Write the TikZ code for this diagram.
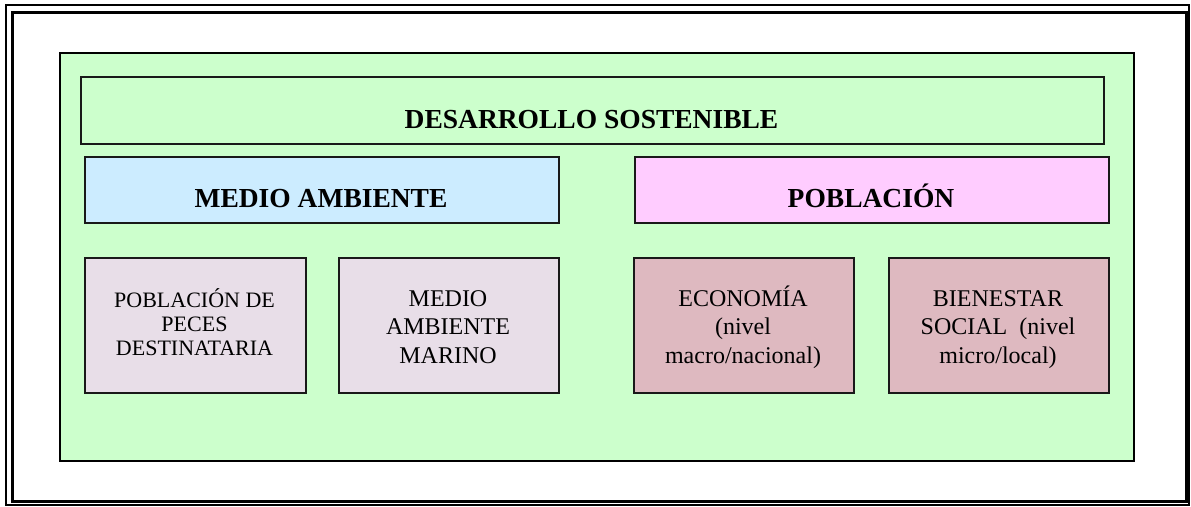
\documentclass[tikz,border=0pt]{standalone}
\usepackage{fontspec}
\setmainfont{Liberation Serif}
\usetikzlibrary{calc}
\definecolor{gbg}{HTML}{CCFFCC}
\definecolor{bluebg}{HTML}{CCECFF}
\definecolor{pinkbg}{HTML}{FFCCFF}
\definecolor{lilacbg}{RGB}{232,222,232}
\definecolor{rosebg}{RGB}{222,185,192}
\tikzset{
  boxr/.style={draw=black!90, line width=2pt, rectangle, inner sep=0pt, anchor=north west},
  ttl/.style={font=\fontsize{27.5}{33}\selectfont\bfseries, anchor=base, inner sep=0pt},
  txt/.style={font=\fontsize{24}{28.5}\selectfont, align=center, anchor=base, inner sep=0pt},
  txts/.style={font=\fontsize{22}{24}\selectfont, align=center, anchor=base, inner sep=0pt},
}
\begin{document}
\begin{tikzpicture}[x=1pt,y=-1pt]
\useasboundingbox (0,0) rectangle (1191,506);
% page border
\draw[line width=2pt] (6,5) rectangle (1189,505);
\draw[line width=3pt] (12,12) rectangle (1186,501);
% green background
\node (green) [boxr, fill=gbg, draw=black, line width=1.5pt, minimum width=1074pt, minimum height=408pt] at (59,52) {};
% top box
\node (ds) [boxr, fill=gbg, minimum width=1023pt, minimum height=67pt] at (80,76) {};
\node (dst) [ttl] at (591.5,128) {DESARROLLO SOSTENIBLE};
% section boxes
\node (ma) [boxr, fill=bluebg, minimum width=474pt, minimum height=66pt] at (84,156) {};
\node (mat) [ttl] at (321,207) {MEDIO AMBIENTE};
\node (pob) [boxr, fill=pinkbg, minimum width=474pt, minimum height=66pt] at (634,156) {};
\node (pobt) [ttl] at (871,207) {POBLACIÓN};
% small boxes
\node (b1) [boxr, fill=lilacbg, minimum width=221pt, minimum height=135pt] at (84,257) {};
\node (b1t) [txts] at (194.5,355) {POBLACIÓN DE\\PECES\\DESTINATARIA};
\node (b2) [boxr, fill=lilacbg, minimum width=220pt, minimum height=135pt] at (338,257) {};
\node (b2t) [txt] at (448,363) {MEDIO\\AMBIENTE\\MARINO};
\node (b3) [boxr, fill=rosebg, minimum width=220pt, minimum height=135pt] at (633,257) {};
\node (b3t) [txt] at (743,363) {ECONOMÍA\\(nivel\\macro/nacional)};
\node (b4) [boxr, fill=rosebg, minimum width=220pt, minimum height=135pt] at (888,257) {};
\node (b4t) [txt] at (998,363) {BIENESTAR\\SOCIAL\ \ (nivel\\micro/local)};
\end{tikzpicture}
\end{document}
